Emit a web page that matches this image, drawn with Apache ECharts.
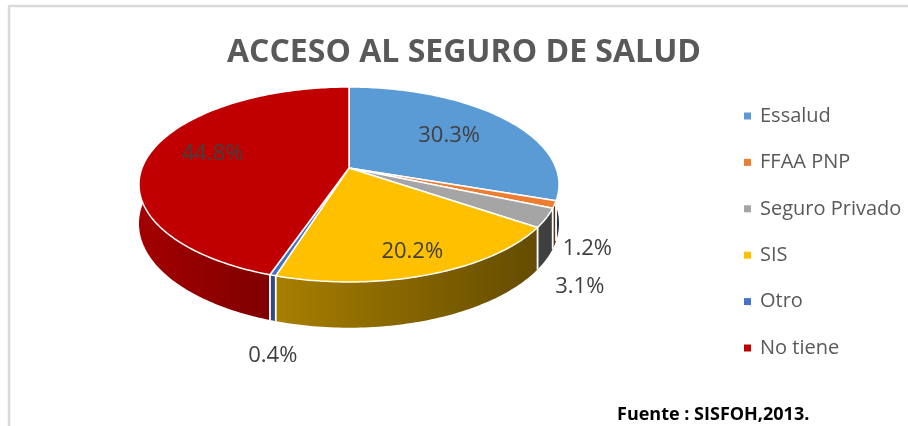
<!DOCTYPE html>
<html>
<head>
<meta charset="utf-8">
<script src="https://cdn.jsdelivr.net/npm/echarts@6/dist/echarts.min.js"></script>
<style>
  html, body { margin: 0; padding: 0; background: #fff; }
  #chart { width: 908px; height: 426px; }
</style>
</head>
<body>
<div id="chart"></div>
<script>
// datos (porcentajes)
var categories = ['Essalud', 'FFAA PNP', 'Seguro Privado', 'SIS', 'Otro', 'No tiene'];
var shares = [30.3, 1.2, 3.1, 20.2, 0.4, 44.8];
var palette = ['#5B9BD5', '#ED7D31', '#A5A5A5', '#FFC000', '#4472C4', '#C00000'];

var FONT = '"Open Sans", "Noto Sans", sans-serif';

// geometria del pastel 3D (vista inclinada con algo de perspectiva)
var CX = 349, CY = 168, RX = 207, RY = 94.7, K = 0.169, DEPTH = 38;

var total = shares.reduce(function (a, b) { return a + b; }, 0);
var starts = [];
(function () {
    var acc = 0;
    for (var i = 0; i < shares.length; i++) {
        starts.push(acc / total * Math.PI * 2);
        acc += shares[i];
    }
})();

function proj(theta, r, drop) {
    var u = r * Math.sin(theta), v = r * Math.cos(theta);
    var d = 1 + K * v;
    return [CX + RX * u / d, CY - RY * v / d + (drop || 0) / d];
}

function shade(hex, f) {
    var n = parseInt(hex.slice(1), 16);
    var r = Math.round(((n >> 16) & 255) * f),
        g = Math.round(((n >> 8) & 255) * f),
        b = Math.round((n & 255) * f);
    return 'rgb(' + r + ',' + g + ',' + b + ')';
}

function wallFill(hex) {
    return new echarts.graphic.LinearGradient(CX - RX - 4, 0, CX + RX + 4, 0, [
        { offset: 0, color: shade(hex, 0.85) },
        { offset: 0.32, color: shade(hex, 0.66) },
        { offset: 1, color: shade(hex, 0.37) }
    ], true);
}

// posiciones de etiquetas (dentro para las grandes, fuera para las pequeñas)
var labelPos = [];
(function () {
    var prev = null;
    for (var i = 0; i < shares.length; i++) {
        var a0 = starts[i], a1 = a0 + shares[i] / total * Math.PI * 2;
        var m = (a0 + a1) / 2;
        if (shares[i] >= 5) {
            var p = proj(m, 0.7 - 0.12 * Math.cos(m), 0);
            labelPos.push({ x: p[0], y: p[1] - 4 * Math.max(0, -Math.sin(m)), align: 'center', va: 'middle' });
        } else {
            var b = proj(m, 1, DEPTH);
            var dx = Math.sin(m), dy = -Math.cos(m);
            var dist = 8 + 20 * Math.pow(Math.max(0, dy), 3);
            var lp = { x: b[0] + dx * dist, y: b[1] + dy * dist };
            lp.align = dx > 0.5 ? 'left' : (dx < -0.5 ? 'right' : 'center');
            lp.va = dy > 0.5 && Math.abs(dx) <= 0.5 ? 'top' : 'middle';
            if (lp.align === 'center') lp.x = b[0];
            if (prev && Math.abs(lp.x - prev.x) < 60 && lp.y - prev.y < 38 && lp.y >= prev.y - 38) {
                lp.y = prev.y + 38;
            }
            labelPos.push(lp);
            prev = lp;
        }
    }
})();

var chart = echarts.init(document.getElementById('chart'));

chart.setOption({
    animation: false,
    color: palette,
    title: [{
        text: 'ACCESO AL SEGURO DE SALUD',
        left: 459, top: 32, textAlign: 'center',
        textStyle: { fontFamily: FONT, fontSize: 32, fontWeight: 'bold', color: '#595959' }
    }, {
        text: 'Fuente : SISFOH,2013.',
        left: 612, top: 401,
        textStyle: { fontFamily: FONT, fontSize: 18, fontWeight: 'bold', color: '#000' }
    }],
    legend: {
        orient: 'vertical',
        left: 744, top: 106, padding: 0,
        icon: 'rect', itemWidth: 7, itemHeight: 7, itemGap: 26.4,
        selectedMode: false,
        textStyle: { fontFamily: FONT, fontSize: 20, color: '#595959', lineHeight: 20, padding: [0, 0, 0, 4] },
        data: categories
    },
    graphic: [
        { type: 'line', shape: { x1: 9, y1: 6, x2: 9, y2: 426 }, style: { stroke: '#D9D9D9', lineWidth: 2.5 } },
        { type: 'line', shape: { x1: 8, y1: 6, x2: 908, y2: 6 }, style: { stroke: '#D9D9D9', lineWidth: 2.5 } }
    ],
    series: [{
        // solo para alimentar la leyenda
        type: 'pie', radius: [0, 0], center: [-50, -50], silent: true,
        label: { show: false }, labelLine: { show: false },
        data: categories.map(function (c, i) { return { name: c, value: shares[i] }; })
    }, {
        type: 'custom',
        coordinateSystem: 'none',
        data: shares,
        renderItem: function (params, api) {
            var i = params.dataIndex;
            var a0 = starts[i];
            var a1 = a0 + api.value(0) / total * Math.PI * 2;
            var steps = Math.max(2, Math.ceil((a1 - a0) / (Math.PI / 180)));
            var topArc = [], botArc = [];
            for (var s = 0; s <= steps; s++) {
                var t = a0 + (a1 - a0) * s / steps;
                topArc.push(proj(t, 1, 0));
                botArc.push(proj(t, 1, DEPTH));
            }
            var col = palette[i];
            var children = [];
            // pared lateral
            children.push({
                type: 'polygon', z2: 1,
                shape: { points: topArc.concat(botArc.slice().reverse()) },
                style: { fill: wallFill(col), stroke: null }
            });
            // separadores blancos en la pared frontal
            [a0, a1].forEach(function (a) {
                if (Math.cos(a) < -K) {
                    var p0 = proj(a, 1, 0), p1 = proj(a, 1, DEPTH);
                    children.push({
                        type: 'line', z2: 5,
                        shape: { x1: p0[0], y1: p0[1], x2: p1[0], y2: p1[1] },
                        style: { stroke: '#fff', lineWidth: 1.5 }
                    });
                }
            });
            // cara superior
            children.push({
                type: 'polygon', z2: 10,
                shape: { points: [[CX, CY]].concat(topArc) },
                style: { fill: col, stroke: '#fff', lineWidth: 1.5, lineJoin: 'round' }
            });
            // etiqueta
            var lp = labelPos[i];
            children.push({
                type: 'text', z2: 20,
                style: {
                    x: lp.x, y: lp.y,
                    text: api.value(0).toFixed(1) + '%',
                    align: lp.align, verticalAlign: lp.va,
                    fontFamily: FONT, fontSize: 22, fill: '#404040'
                }
            });
            return { type: 'group', children: children };
        }
    }]
});
</script>
</body>
</html>
